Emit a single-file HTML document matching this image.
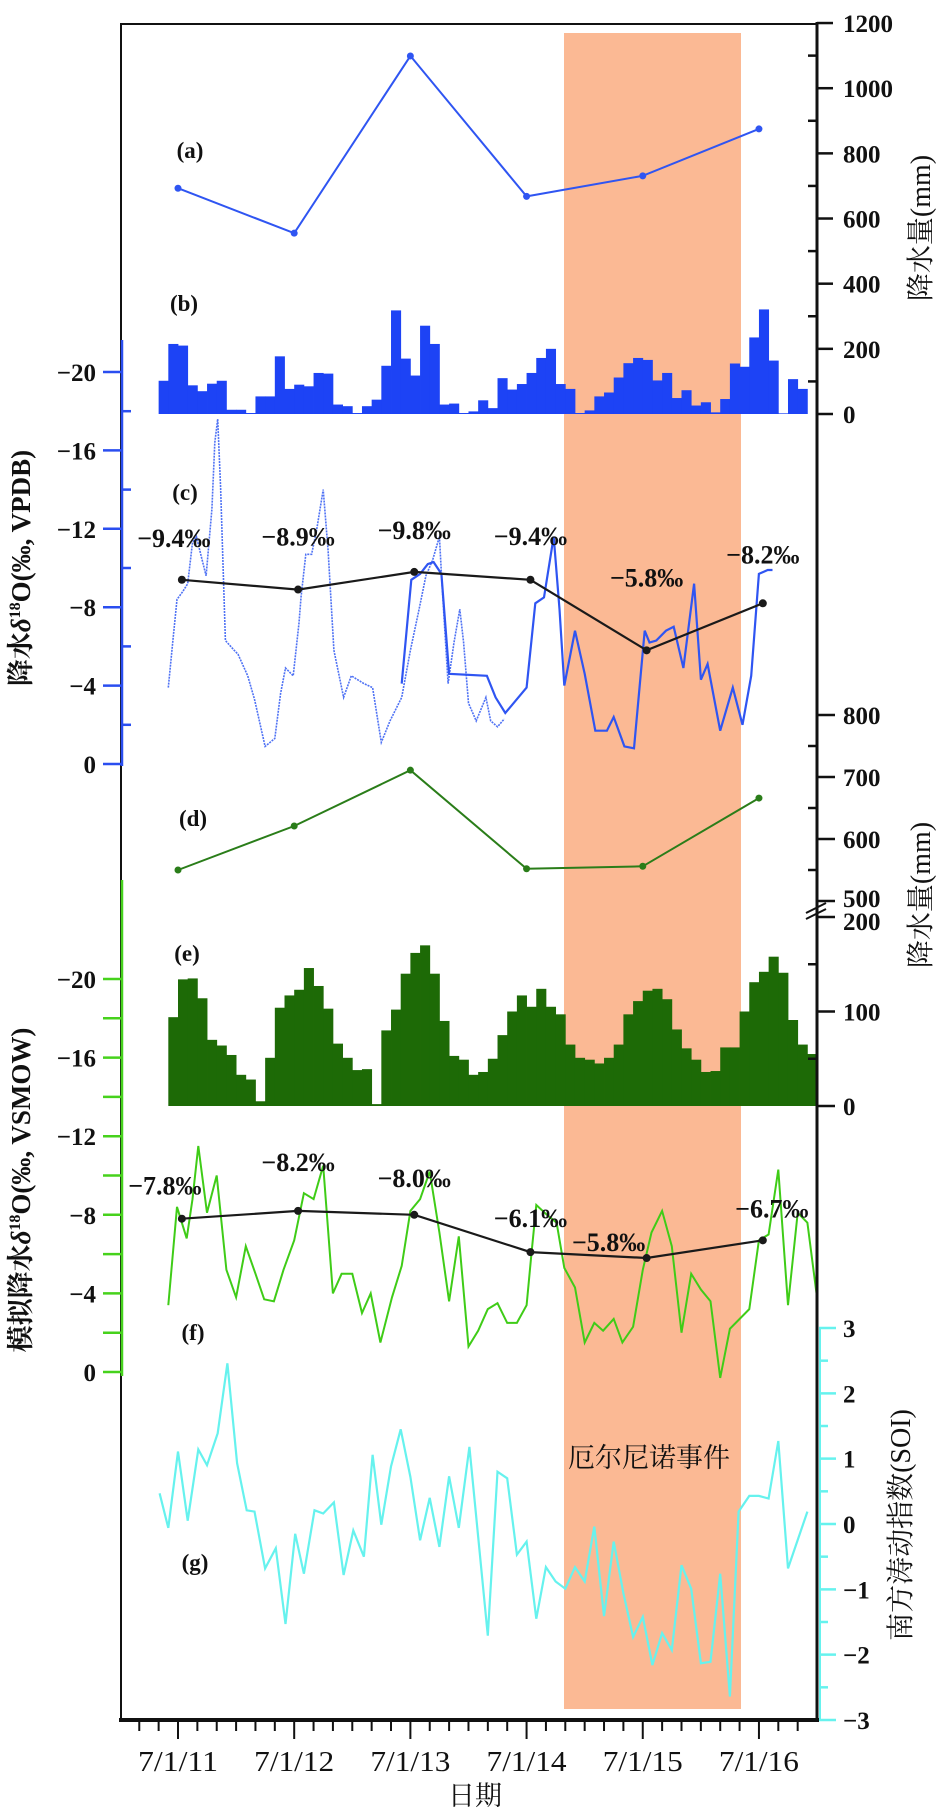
<!DOCTYPE html>
<html><head><meta charset="utf-8">
<style>
html,body{margin:0;padding:0;background:#fff;}
svg{display:block;font-family:"Liberation Serif","Noto Serif CJK SC","Noto Sans CJK SC",serif;}
.tk{font-weight:bold;font-size:25px;fill:#111;}
.pl{font-weight:bold;font-size:23px;fill:#111;}
.vl{font-weight:bold;font-size:26px;fill:#111;}
</style></head>
<body>
<svg id="chart" width="948" height="1815" viewBox="0 0 948 1815" xmlns="http://www.w3.org/2000/svg">
<rect x="0" y="0" width="948" height="1815" fill="#fff"/>
<rect x="564" y="33" width="177" height="1676" fill="#fbb994"/>
<g id="marks"></g>
<g id="axes"></g>
<text x="649" y="1467" text-anchor="middle" font-size="27" fill="#111" style="font-family:'Noto Serif CJK SC','Noto Sans CJK SC',serif">厄尔尼诺事件</text>
<text class="pl" x="190" y="158" text-anchor="middle">(a)</text>
<text class="pl" x="184" y="311" text-anchor="middle">(b)</text>
<text class="pl" x="185" y="500" text-anchor="middle">(c)</text>
<text class="pl" x="193" y="826" text-anchor="middle">(d)</text>
<text class="pl" x="187" y="961" text-anchor="middle">(e)</text>
<text class="pl" x="193" y="1340" text-anchor="middle">(f)</text>
<text class="pl" x="195" y="1570" text-anchor="middle">(g)</text>
<text transform="translate(30,568) rotate(-90)" text-anchor="middle" font-size="27" font-weight="bold" fill="#111">降水<tspan font-style="italic">δ</tspan><tspan font-size="16" dy="-10">18</tspan><tspan dy="10">O(‰, VPDB)</tspan></text>
<text transform="translate(30,1190) rotate(-90)" text-anchor="middle" font-size="27" font-weight="bold" fill="#111">模拟降水<tspan font-style="italic">δ</tspan><tspan font-size="16" dy="-10">18</tspan><tspan dy="10">O(‰, VSMOW)</tspan></text>
<text transform="translate(930,228) rotate(-90)" text-anchor="middle" font-size="28" fill="#111">降水量(mm)</text>
<text transform="translate(930,895) rotate(-90)" text-anchor="middle" font-size="28" fill="#111">降水量(mm)</text>
<text transform="translate(910,1525) rotate(-90)" text-anchor="middle" font-size="28" fill="#111">南方涛动指数(SOI)</text>
<text x="475" y="1805" text-anchor="middle" font-size="27" fill="#111">日期</text>
</svg>
<script>
// ---- data ----
const yearLabels = ["7/1/11","7/1/12","7/1/13","7/1/14","7/1/15","7/1/16"];
const annualMonths = [0,12,24,36,48,60];
const annualMeanMonths = [0.4,12.4,24.4,36.4,48.4,60.4];
const aRain = [693,555,1099,668,731,875];
const bMonthly = [102,215,210,88,70,93,102,13,13,3,54,54,177,77,90,85,126,124,29,24,3,24,44,148,318,170,118,271,215,29,32,3,8,42,18,110,75,92,126,172,200,92,77,3,11,54,66,112,156,172,166,103,126,49,73,26,36,5,46,155,145,235,321,164,2,107,77];
const bStartMonth = -2;
const cDotMonths = [-1,-0.55,-0.1,0.5,1,1.5,1.9,2.5,2.9,3.5,3.8,4.1,4.4,4.9,5.8,6.2,7.2,7.9,9,10,10.6,11.1,11.9,12.5,12.7,13.2,13.8,14.3,15,15.5,16.1,17.1,17.9,19.2,20.1,21,21.9,23.1,24,24.9,25.6,26.3,27,27.3,27.9,28.5,29.1,29.5,30,30.8,31.8,32.3,33,33.7];
const cDotValues = [-3.9,-6.2,-8.4,-8.8,-9.2,-11.3,-11.6,-10.4,-9.6,-13.0,-16.4,-17.6,-14.1,-6.3,-5.8,-5.6,-4.5,-3.3,-0.9,-1.3,-3.6,-4.9,-4.5,-7.2,-8.5,-10.7,-10.7,-11.9,-14.0,-10.9,-5.8,-3.4,-4.5,-4.1,-3.9,-1.1,-2.2,-3.4,-5.8,-7.9,-9.6,-10.4,-11.6,-8.9,-4.1,-6.2,-7.9,-6.2,-3.1,-2.2,-3.4,-2.2,-1.9,-2.3];
const cSolidMonths = [23.1,24.1,25,25.8,26.4,27.2,28,31.9,32.8,33.8,36,36.9,37.8,38.8,39.4,39.9,41,42,43.1,44.3,45,46.1,47.1,48.2,48.7,49.4,50.4,51.2,52.2,53.3,54,54.7,56,57.3,58.3,59.2,60,60.9,61.4];
const cSolidValues = [-4.1,-9.4,-9.7,-10.2,-10.3,-9.7,-4.6,-4.5,-3.4,-2.6,-3.9,-8.2,-8.5,-11.6,-7.9,-4.0,-6.8,-4.6,-1.7,-1.7,-2.4,-0.9,-0.8,-6.8,-6.2,-6.3,-6.8,-7.0,-4.9,-9.2,-4.3,-5.1,-1.7,-3.9,-2.0,-4.5,-9.7,-9.9,-9.9];
const cMeans = [-9.4,-8.9,-9.8,-9.4,-5.8,-8.2];
const cMeanLabels = ["−9.4‰","−8.9‰","−9.8‰","−9.4‰","−5.8‰","−8.2‰"];
const dRain = [550,621,711,552,556,666];
const eMonthly = [94,134,135,114,70,64,54,33,28,5,51,104,117,123,146,127,103,66,51,38,39,2,80,102,140,162,170,140,90,53,49,33,36,50,75,100,117,105,124,105,97,65,51,49,45,51,65,97,111,122,124,113,81,61,49,36,37,62,62,100,131,142,158,141,91,65,55];
const eStartMonth = -1;
const fMonths = [-1,-0.1,0.9,1.5,2.1,3,4,5,6,7,8,8.9,9.9,10.9,12,13,14,15,16,16.9,18,19,19.9,20.9,22.1,23.1,24,25,26,27,28,29,30,31,32,33,34,35,36,36.5,37,38.1,39.1,39.9,41,42,43,43.9,45,45.9,47,48,48.9,50,51,52,53,54,55,56,57,59,60,61,62,63,64,65,66];
const fValues = [-3.4,-8.4,-6.8,-8.8,-11.5,-8.1,-10.0,-5.2,-3.8,-6.4,-5.0,-3.7,-3.6,-5.2,-6.7,-9.1,-8.8,-10.5,-4.0,-5.0,-5.0,-3.0,-4.0,-1.5,-3.8,-5.4,-8.2,-8.8,-10.2,-7.1,-3.6,-6.9,-1.3,-2.1,-3.2,-3.5,-2.5,-2.5,-3.4,-6.0,-8.5,-8.0,-7.6,-5.3,-4.3,-1.5,-2.5,-2.1,-2.7,-1.5,-2.3,-5.2,-7.1,-8.2,-6.4,-2.0,-5.0,-4.2,-3.6,0.3,-2.2,-3.2,-6.7,-7.0,-10.3,-3.4,-8.1,-7.6,-3.8];
const fMeans = [-7.8,-8.2,-8.0,-6.1,-5.8,-6.7];
const fMeanLabels = ["−7.8‰","−8.2‰","−8.0‰","−6.1‰","−5.8‰","−6.7‰"];
const gMonths = [-1.9,-1,0,1,2.1,3,4.1,5.1,6.1,7.1,7.9,9,10.1,11.1,12.1,13,14.1,15,16.1,17.1,18.1,19.2,20.1,21,22,23,24,25,26,27,28,29,30.1,31,32,33,34,35,36,37,38,39,40,41,42,43,44,45,46,47,48,49,50,51,52,53,54,55,56,57,57.9,59,60,61,62,63,65];
const gSOI = [0.47,-0.06,1.11,0.05,1.14,0.9,1.39,2.46,0.93,0.21,0.19,-0.68,-0.37,-1.53,-0.15,-0.76,0.21,0.16,0.33,-0.78,-0.1,-0.5,1.06,-0.01,0.88,1.45,0.72,-0.25,0.4,-0.35,0.73,-0.06,1.18,-0.2,-1.71,0.8,0.7,-0.47,-0.27,-1.45,-0.66,-0.88,-0.99,-0.66,-0.88,-0.04,-1.41,-0.27,-1.06,-1.73,-1.42,-2.16,-1.67,-1.93,-0.63,-0.99,-2.13,-2.11,-0.76,-2.64,0.19,0.43,0.43,0.39,1.27,-0.68,0.19];
const abTicks = [0,200,400,600,800,1000,1200];
const dTicks = [500,600,700,800];
const eTicks = [0,100,200];
const deltaTicks = [-20,-16,-12,-8,-4,0];
const soiTicks = [-3,-2,-1,0,1,2,3];

// ---- scales ----
const X = m => 178 + m * 116.19 / 12;
const yAB = v => 414 - v * 0.3258;
const yC = d => 764 + d * 19.6;
const yD = v => 715 + (800 - v) * 0.62;
const yE = v => 1106 - v * 0.945;
const yF = d => 1372 + d * 19.65;
const yG = v => 1524 - v * 65.33;

const NS = "http://www.w3.org/2000/svg";
const marks = document.getElementById("marks");
const axes = document.getElementById("axes");
function mk(tag, attrs, parent) {
  const el = document.createElementNS(NS, tag);
  for (const k in attrs) el.setAttribute(k, attrs[k]);
  (parent || marks).appendChild(el);
  return el;
}
function pts(xs, ys, fy) { return xs.map((m, i) => X(m).toFixed(1) + "," + fy(ys[i]).toFixed(1)).join(" "); }

// bars b
bMonthly.forEach((v, i) => {
  const x0 = X(bStartMonth + i), x1 = X(bStartMonth + i + 1);
  const r = mk("rect", {x: x0, y: yAB(v), width: x1 - x0 + 0.4, height: yAB(0) - yAB(v), fill: "#1d43f5"});
  
  
});
// bars e
eMonthly.forEach((v, i) => {
  const x0 = X(eStartMonth + i), x1 = X(eStartMonth + i + 1);
  const r = mk("rect", {x: x0, y: yE(v), width: x1 - x0 + 0.4, height: yE(0) - yE(v), fill: "#1d6a06"});
  
  
});
// line a
let l = mk("polyline", {points: pts(annualMonths, aRain, yAB), fill: "none", stroke: "#2f55f2", "stroke-width": 2});


aRain.forEach((v, i) => {
  const c = mk("circle", {cx: X(annualMonths[i]), cy: yAB(v), r: 3.5, fill: "#2f55f2"});
  
  
});
// line c dotted & solid
l = mk("polyline", {points: pts(cDotMonths, cDotValues, yC), fill: "none", stroke: "#4f72f4", "stroke-width": 1.6, "stroke-dasharray": "2 1"});


l = mk("polyline", {points: pts(cSolidMonths, cSolidValues, yC), fill: "none", stroke: "#2f55f2", "stroke-width": 2.2});


l = mk("polyline", {points: pts(annualMeanMonths, cMeans, yC), fill: "none", stroke: "#1a1a1a", "stroke-width": 2.2});


const cLabOff = [[-8,-33],[0,-44],[0,-33],[0,-35],[0,-64],[0,-40]];
cMeans.forEach((v, i) => {
  const c = mk("circle", {cx: X(annualMeanMonths[i]), cy: yC(v), r: 4, fill: "#1a1a1a"});
  
  
  const t = mk("text", {x: X(annualMeanMonths[i]) + cLabOff[i][0], y: yC(v) + cLabOff[i][1], "text-anchor": "middle", "class": "vl"});
  t.textContent = cMeanLabels[i];
  
  
});
// line d
l = mk("polyline", {points: pts(annualMonths, dRain, yD), fill: "none", stroke: "#2a7d19", "stroke-width": 2});


dRain.forEach((v, i) => {
  const c = mk("circle", {cx: X(annualMonths[i]), cy: yD(v), r: 3.5, fill: "#2a7d19"});
  
  
});
// line f
l = mk("polyline", {points: pts(fMonths, fValues, yF), fill: "none", stroke: "#3fcc17", "stroke-width": 2});


l = mk("polyline", {points: pts(annualMeanMonths, fMeans, yF), fill: "none", stroke: "#1a1a1a", "stroke-width": 2.2});


const fLabOff = [[-17,-24],[0,-40],[0,-28],[0,-25],[-38,-7],[9,-23]];
fMeans.forEach((v, i) => {
  const c = mk("circle", {cx: X(annualMeanMonths[i]), cy: yF(v), r: 4, fill: "#1a1a1a"});
  
  
  const t = mk("text", {x: X(annualMeanMonths[i]) + fLabOff[i][0], y: yF(v) + fLabOff[i][1], "text-anchor": "middle", "class": "vl"});
  t.textContent = fMeanLabels[i];
  
  
});
// line g
l = mk("polyline", {points: pts(gMonths, gSOI, yG), fill: "none", stroke: "#66f2ee", "stroke-width": 2.2});



// ---- axes ----
let a = mk("rect", {x: 121, y: 24, width: 696, height: 1696, fill: "none", stroke: "#111", "stroke-width": 2}, axes);


a = mk("line", {x1: 119, y1: 1720, x2: 819, y2: 1720, stroke: "#111", "stroke-width": 4}, axes);


a = mk("line", {x1: 817, y1: 22, x2: 817, y2: 1722, stroke: "#111", "stroke-width": 3}, axes);


a = mk("line", {x1: 122, y1: 340, x2: 122, y2: 766, stroke: "#2a4ef0", "stroke-width": 2.5}, axes);


a = mk("line", {x1: 122, y1: 880, x2: 122, y2: 1376, stroke: "#46d21c", "stroke-width": 2.5}, axes);


a = mk("line", {x1: 820, y1: 1328, x2: 820, y2: 1720, stroke: "#66f2ee", "stroke-width": 2}, axes);



function tickLabel(x, y, txt, anchor, name, color) {
  const t = mk("text", {x: x, y: y + 9, "text-anchor": anchor, "class": "tk"}, axes);
  if (color) t.setAttribute("fill", color);
  t.textContent = txt;
  
  
}
// right axis a/b
abTicks.forEach(v => {
  const tk = mk("line", {x1: 817, y1: yAB(v), x2: 833, y2: yAB(v), stroke: "#111", "stroke-width": 2.5}, axes);
  
  
  tickLabel(843, yAB(v), String(v), "start", "right-tick-label-ab");
  if (v < 1200) {
    const mn = mk("line", {x1: 808, y1: yAB(v + 100), x2: 817, y2: yAB(v + 100), stroke: "#111", "stroke-width": 2.5}, axes);
    
    
  }
});
dTicks.forEach(v => {
  const tk = mk("line", {x1: 817, y1: yD(v), x2: 835, y2: yD(v), stroke: "#111", "stroke-width": 2.5}, axes);
  
  
  tickLabel(843, yD(v) - (v === 500 ? 3 : 0), String(v), "start", "right-tick-label-d");
  if (v < 800) {
    const mn = mk("line", {x1: 808, y1: yD(v + 50), x2: 817, y2: yD(v + 50), stroke: "#111", "stroke-width": 2.5}, axes);
    
    
  }
});
a = mk("path", {d: "M806,913 L826,903 M806,919 L826,909", stroke: "#111", "stroke-width": 2, fill: "none"}, axes);


eTicks.forEach(v => {
  const tk = mk("line", {x1: 817, y1: yE(v), x2: 835, y2: yE(v), stroke: "#111", "stroke-width": 2.5}, axes);
  
  
  tickLabel(843, yE(v) + (v === 200 ? 4 : 0), String(v), "start", "right-tick-label-e");
  if (v < 200) {
    const mn = mk("line", {x1: 808, y1: yE(v + 50), x2: 817, y2: yE(v + 50), stroke: "#111", "stroke-width": 2.5}, axes);
    
    
  }
});
soiTicks.forEach(v => {
  const tk = mk("line", {x1: 819, y1: yG(v), x2: 836, y2: yG(v), stroke: "#66f2ee", "stroke-width": 2.5}, axes);
  
  
  tickLabel(843, yG(v), v < 0 ? "−" + Math.abs(v) : String(v), "start", "right-tick-label-soi");
  if (v < 3) {
    const mn = mk("line", {x1: 819, y1: yG(v + 0.5), x2: 828, y2: yG(v + 0.5), stroke: "#66f2ee", "stroke-width": 2.5}, axes);
    
    
  }
});
// left axes
deltaTicks.forEach(v => {
  let tk = mk("line", {x1: 103, y1: yC(v), x2: 122, y2: yC(v), stroke: "#2a4ef0", "stroke-width": 2.5}, axes);
  
  
  tickLabel(96, yC(v), v < 0 ? "−" + Math.abs(v) : String(v), "end", "left-tick-label-c");
  if (v < 0) {
    const mn = mk("line", {x1: 122, y1: yC(v + 2), x2: 131, y2: yC(v + 2), stroke: "#2a4ef0", "stroke-width": 2.5}, axes);
    
    
  }
  tk = mk("line", {x1: 103, y1: yF(v), x2: 122, y2: yF(v), stroke: "#46d21c", "stroke-width": 2.5}, axes);
  
  
  tickLabel(96, yF(v), v < 0 ? "−" + Math.abs(v) : String(v), "end", "left-tick-label-f");
  if (v < 0) {
    const mn = mk("line", {x1: 103, y1: yF(v + 2), x2: 122, y2: yF(v + 2), stroke: "#46d21c", "stroke-width": 2.5}, axes);
    
    
  }
});
// x ticks
for (let m = -4; m <= 66; m += 2) {
  const x = X(m);
  if (x < 123 || x > 816) continue;
  const major = (m % 12 === 0);
  const tk = mk("line", {x1: x, y1: 1720, x2: x, y2: major ? 1739 : 1731, stroke: "#111", "stroke-width": 2}, axes);
  
  
}
yearLabels.forEach((s, i) => {
  const t = mk("text", {x: X(annualMonths[i]), y: 1771, "text-anchor": "middle", "font-size": 28, fill: "#111", textLength: 80, lengthAdjust: "spacingAndGlyphs"}, axes);
  t.textContent = s;
  
  
});
</script>
</body></html>
